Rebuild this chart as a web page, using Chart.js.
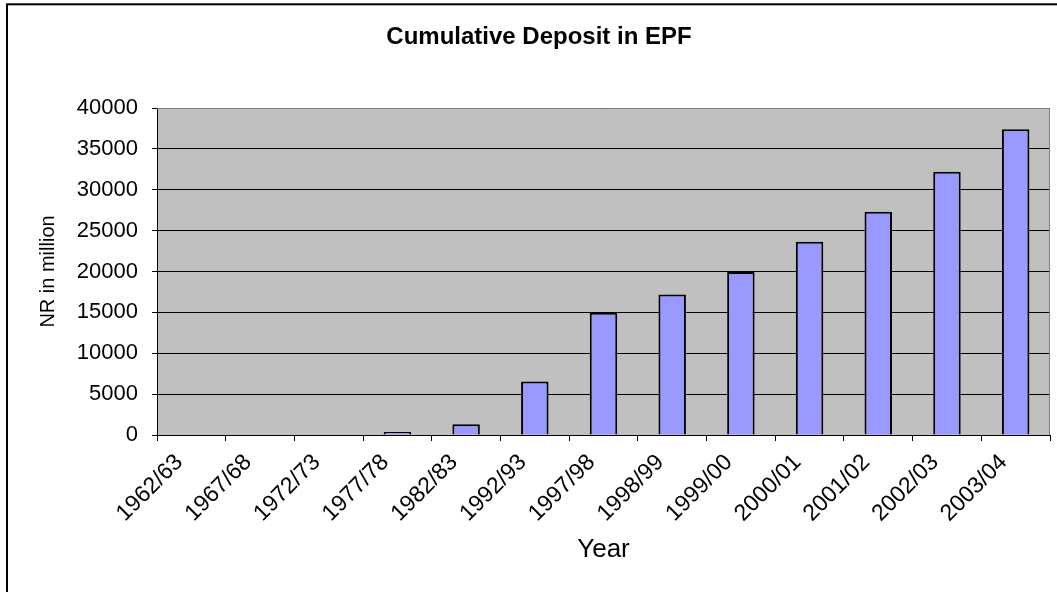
<!DOCTYPE html>
<html>
<head>
<meta charset="utf-8">
<title>Cumulative Deposit in EPF</title>
<script src="https://cdn.jsdelivr.net/npm/chart.js@4.4.1/dist/chart.umd.min.js"></script>
<style>
  html, body { margin: 0; padding: 0; background: #fff; }
  #wrap { width: 1057px; height: 592px; position: relative; }
</style>
</head>
<body>
<div id="wrap"><canvas id="chart" width="1057" height="592"></canvas></div>
<script>
// fiscal years and cumulative deposits (NR million)
const years = ['1962/63', '1967/68', '1972/73', '1977/78', '1982/83', '1992/93', '1997/98',
               '1998/99', '1999/00', '2000/01', '2001/02', '2002/03', '2003/04'];
const deposits = [0, 0, 0, 380, 1300, 6550, 14950, 17200, 19950, 23650, 27300, 32200, 37400];
const yTicks = [0, 5000, 10000, 15000, 20000, 25000, 30000, 35000, 40000];

const FONT = 'Arial, "Liberation Sans", sans-serif';

// white page, frame, grey plot area and the chart heading
const frame = {
  id: 'frame',
  beforeDraw(chart) {
    const { ctx, chartArea: a } = chart;
    ctx.save();
    ctx.fillStyle = '#fff';
    ctx.fillRect(0, 0, chart.width, chart.height);
    ctx.strokeStyle = '#000';
    ctx.lineWidth = 2;
    ctx.strokeRect(7, 4.3, chart.width + 20, chart.height + 20);
    ctx.fillStyle = '#C0C0C0';
    ctx.fillRect(a.left, a.top, a.right - a.left, a.bottom - a.top);
    ctx.fillStyle = '#000';
    ctx.font = 'bold 24px ' + FONT;
    ctx.textAlign = 'center';
    ctx.textBaseline = 'middle';
    ctx.fillText('Cumulative Deposit in EPF', 539, 37);
    ctx.restore();
  },
  beforeDatasetsDraw(chart) {
    const { ctx, chartArea: a } = chart;
    ctx.save();
    ctx.strokeStyle = '#808080';
    ctx.lineWidth = 1;
    ctx.beginPath();
    ctx.moveTo(a.left, a.top + 0.5);
    ctx.lineTo(a.right - 0.5, a.top + 0.5);
    ctx.lineTo(a.right - 0.5, a.bottom);
    ctx.stroke();
    ctx.restore();
  }
};

new Chart(document.getElementById('chart'), {
  type: 'bar',
  data: {
    labels: years,
    datasets: [{
      label: 'Cumulative Deposit',
      data: deposits,
      backgroundColor: '#9999FF',
      borderColor: '#000',
      borderWidth: 2,
      borderSkipped: 'start',
      categoryPercentage: 1,
      barPercentage: 0.4
    }]
  },
  options: {
    responsive: false,
    animation: false,
    layout: { padding: { top: 108, right: 7, left: 0, bottom: 0 } },
    plugins: { legend: { display: false }, title: { display: false }, tooltip: { enabled: false } },
    scales: {
      x: {
        afterFit(s) { s.height = 157; },
        grid: { offset: true, drawOnChartArea: false, drawTicks: true, tickLength: 6, color: '#000' },
        border: { color: '#000', width: 1 },
        ticks: {
          color: '#000', font: { family: FONT, size: 23 },
          minRotation: 45, maxRotation: 45, autoSkip: false, padding: 8, labelOffset: -12
        },
        title: {
          display: true, text: 'Year', color: '#000',
          font: { family: FONT, size: 26 }, padding: { top: 0, bottom: 27 }
        }
      },
      y: {
        min: 0, max: 40000,
        afterFit(s) { s.width = 157; },
        afterBuildTicks(s) { s.ticks = yTicks.map(v => ({ value: v })); },
        grid: { color: '#000', lineWidth: 1, tickLength: 5 },
        border: { color: '#000', width: 1 },
        ticks: {
          color: '#000', font: { family: FONT, size: 22 }, padding: 14,
          callback: v => String(v)
        },
        title: {
          display: true, text: 'NR in million', color: '#000',
          font: { family: FONT, size: 20 }, padding: { top: 36, bottom: 0 }
        }
      }
    }
  },
  plugins: [frame]
});
</script>
</body>
</html>
